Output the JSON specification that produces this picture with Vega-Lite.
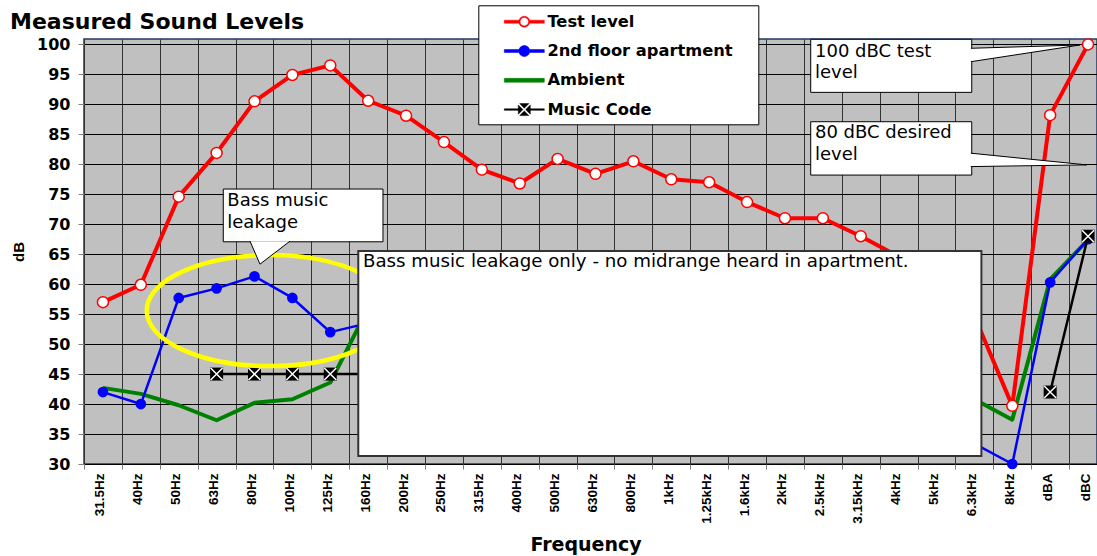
{
  "$schema": "https://vega.github.io/schema/vega-lite/v6.json",
  "width": 1013,
  "height": 425,
  "autosize": {"type": "none"},
  "padding": {"left": 84, "top": 39, "right": 0, "bottom": 92},
  "background": "white",
  "config": {
    "view": {"fill": "#c0c0c0", "stroke": "#1f3864", "strokeWidth": 1.5}
  },
  "title": {
    "text": "Measured Sound Levels",
    "anchor": "start",
    "frame": "group",
    "font": "DejaVu Sans",
    "fontSize": 22,
    "fontWeight": "bold",
    "color": "black",
    "dx": -74,
    "dy": 56.5,
    "baseline": "alphabetic",
    "offset": 10
  },
  "datasets": {
    "sound": [
      {"freq": "31.5Hz", "series": "Test level", "dB": 57.0},
      {"freq": "40Hz", "series": "Test level", "dB": 59.9},
      {"freq": "50Hz", "series": "Test level", "dB": 74.6},
      {"freq": "63Hz", "series": "Test level", "dB": 81.9},
      {"freq": "80Hz", "series": "Test level", "dB": 90.5},
      {"freq": "100Hz", "series": "Test level", "dB": 94.9},
      {"freq": "125Hz", "series": "Test level", "dB": 96.5},
      {"freq": "160Hz", "series": "Test level", "dB": 90.6},
      {"freq": "200Hz", "series": "Test level", "dB": 88.1},
      {"freq": "250Hz", "series": "Test level", "dB": 83.7},
      {"freq": "315Hz", "series": "Test level", "dB": 79.1},
      {"freq": "400Hz", "series": "Test level", "dB": 76.8},
      {"freq": "500Hz", "series": "Test level", "dB": 80.9},
      {"freq": "630Hz", "series": "Test level", "dB": 78.4},
      {"freq": "800Hz", "series": "Test level", "dB": 80.5},
      {"freq": "1kHz", "series": "Test level", "dB": 77.5},
      {"freq": "1.25kHz", "series": "Test level", "dB": 77.0},
      {"freq": "1.6kHz", "series": "Test level", "dB": 73.7},
      {"freq": "2kHz", "series": "Test level", "dB": 71.0},
      {"freq": "2.5kHz", "series": "Test level", "dB": 71.0},
      {"freq": "3.15kHz", "series": "Test level", "dB": 68.0},
      {"freq": "4kHz", "series": "Test level", "dB": 64.6},
      {"freq": "5kHz", "series": "Test level", "dB": 60.0},
      {"freq": "6.3kHz", "series": "Test level", "dB": 54.7},
      {"freq": "8kHz", "series": "Test level", "dB": 39.7},
      {"freq": "dBA", "series": "Test level", "dB": 88.2},
      {"freq": "dBC", "series": "Test level", "dB": 100.0},
      {"freq": "31.5Hz", "series": "2nd floor apartment", "dB": 42.0},
      {"freq": "40Hz", "series": "2nd floor apartment", "dB": 40.0},
      {"freq": "50Hz", "series": "2nd floor apartment", "dB": 57.7},
      {"freq": "63Hz", "series": "2nd floor apartment", "dB": 59.3},
      {"freq": "80Hz", "series": "2nd floor apartment", "dB": 61.3},
      {"freq": "100Hz", "series": "2nd floor apartment", "dB": 57.7},
      {"freq": "125Hz", "series": "2nd floor apartment", "dB": 52.0},
      {"freq": "160Hz", "series": "2nd floor apartment", "dB": 53.5},
      {"freq": "200Hz", "series": "2nd floor apartment", "dB": 50.0},
      {"freq": "250Hz", "series": "2nd floor apartment", "dB": 47.5},
      {"freq": "315Hz", "series": "2nd floor apartment", "dB": 45.5},
      {"freq": "400Hz", "series": "2nd floor apartment", "dB": 44.0},
      {"freq": "500Hz", "series": "2nd floor apartment", "dB": 42.5},
      {"freq": "630Hz", "series": "2nd floor apartment", "dB": 41.0},
      {"freq": "800Hz", "series": "2nd floor apartment", "dB": 40.0},
      {"freq": "1kHz", "series": "2nd floor apartment", "dB": 39.0},
      {"freq": "1.25kHz", "series": "2nd floor apartment", "dB": 38.0},
      {"freq": "1.6kHz", "series": "2nd floor apartment", "dB": 37.5},
      {"freq": "2kHz", "series": "2nd floor apartment", "dB": 37.0},
      {"freq": "2.5kHz", "series": "2nd floor apartment", "dB": 36.5},
      {"freq": "3.15kHz", "series": "2nd floor apartment", "dB": 36.0},
      {"freq": "4kHz", "series": "2nd floor apartment", "dB": 35.5},
      {"freq": "5kHz", "series": "2nd floor apartment", "dB": 34.5},
      {"freq": "6.3kHz", "series": "2nd floor apartment", "dB": 33.4},
      {"freq": "8kHz", "series": "2nd floor apartment", "dB": 30.0},
      {"freq": "dBA", "series": "2nd floor apartment", "dB": 60.3},
      {"freq": "dBC", "series": "2nd floor apartment", "dB": 67.5},
      {"freq": "31.5Hz", "series": "Ambient", "dB": 42.7},
      {"freq": "40Hz", "series": "Ambient", "dB": 41.7},
      {"freq": "50Hz", "series": "Ambient", "dB": 39.8},
      {"freq": "63Hz", "series": "Ambient", "dB": 37.3},
      {"freq": "80Hz", "series": "Ambient", "dB": 40.2},
      {"freq": "100Hz", "series": "Ambient", "dB": 40.8},
      {"freq": "125Hz", "series": "Ambient", "dB": 43.6},
      {"freq": "160Hz", "series": "Ambient", "dB": 56.0},
      {"freq": "200Hz", "series": "Ambient", "dB": 52.0},
      {"freq": "250Hz", "series": "Ambient", "dB": 49.0},
      {"freq": "315Hz", "series": "Ambient", "dB": 47.0},
      {"freq": "400Hz", "series": "Ambient", "dB": 46.0},
      {"freq": "500Hz", "series": "Ambient", "dB": 45.0},
      {"freq": "630Hz", "series": "Ambient", "dB": 44.5},
      {"freq": "800Hz", "series": "Ambient", "dB": 44.0},
      {"freq": "1kHz", "series": "Ambient", "dB": 43.5},
      {"freq": "1.25kHz", "series": "Ambient", "dB": 43.0},
      {"freq": "1.6kHz", "series": "Ambient", "dB": 42.5},
      {"freq": "2kHz", "series": "Ambient", "dB": 42.0},
      {"freq": "2.5kHz", "series": "Ambient", "dB": 41.8},
      {"freq": "3.15kHz", "series": "Ambient", "dB": 41.5},
      {"freq": "4kHz", "series": "Ambient", "dB": 41.2},
      {"freq": "5kHz", "series": "Ambient", "dB": 41.0},
      {"freq": "6.3kHz", "series": "Ambient", "dB": 40.8},
      {"freq": "8kHz", "series": "Ambient", "dB": 37.4},
      {"freq": "dBA", "series": "Ambient", "dB": 60.8},
      {"freq": "dBC", "series": "Ambient", "dB": 67.4},
      {"freq": "31.5Hz", "series": "Music Code", "dB": null},
      {"freq": "40Hz", "series": "Music Code", "dB": null},
      {"freq": "50Hz", "series": "Music Code", "dB": null},
      {"freq": "63Hz", "series": "Music Code", "dB": 45.0},
      {"freq": "80Hz", "series": "Music Code", "dB": 45.0},
      {"freq": "100Hz", "series": "Music Code", "dB": 45.0},
      {"freq": "125Hz", "series": "Music Code", "dB": 45.0},
      {"freq": "160Hz", "series": "Music Code", "dB": 45.0},
      {"freq": "200Hz", "series": "Music Code", "dB": null},
      {"freq": "250Hz", "series": "Music Code", "dB": null},
      {"freq": "315Hz", "series": "Music Code", "dB": null},
      {"freq": "400Hz", "series": "Music Code", "dB": null},
      {"freq": "500Hz", "series": "Music Code", "dB": null},
      {"freq": "630Hz", "series": "Music Code", "dB": null},
      {"freq": "800Hz", "series": "Music Code", "dB": null},
      {"freq": "1kHz", "series": "Music Code", "dB": null},
      {"freq": "1.25kHz", "series": "Music Code", "dB": null},
      {"freq": "1.6kHz", "series": "Music Code", "dB": null},
      {"freq": "2kHz", "series": "Music Code", "dB": null},
      {"freq": "2.5kHz", "series": "Music Code", "dB": null},
      {"freq": "3.15kHz", "series": "Music Code", "dB": null},
      {"freq": "4kHz", "series": "Music Code", "dB": null},
      {"freq": "5kHz", "series": "Music Code", "dB": null},
      {"freq": "6.3kHz", "series": "Music Code", "dB": null},
      {"freq": "8kHz", "series": "Music Code", "dB": null},
      {"freq": "dBA", "series": "Music Code", "dB": 42.0},
      {"freq": "dBC", "series": "Music Code", "dB": 68.0}
    ]
  },
  "resolve": {"scale": {"x": "independent"}, "axis": {"x": "independent", "y": "independent"}},
  "layer": [
    {
      "data": {"name": "sound"},
      "encoding": {
        "x": {
          "field": "freq",
          "type": "nominal",
          "scale": {
            "type": "band",
            "domain": ["31.5Hz","40Hz","50Hz","63Hz","80Hz","100Hz","125Hz","160Hz","200Hz","250Hz","315Hz","400Hz","500Hz","630Hz","800Hz","1kHz","1.25kHz","1.6kHz","2kHz","2.5kHz","3.15kHz","4kHz","5kHz","6.3kHz","8kHz","dBA","dBC"],
            "range": [0, 1023],
            "paddingInner": 0,
            "paddingOuter": 0
          },
          "axis": {
            "title": "Frequency",
            "titleFont": "DejaVu Sans",
            "titleFontSize": 19,
            "titleFontWeight": "bold",
            "titleColor": "black",
            "titlePadding": 12,
            "titleX": 501.5,
            "labelAngle": 270,
            "labelFont": "Liberation Sans",
            "labelFontWeight": "bold",
            "labelFontSize": 13.5,
            "labelColor": "black",
            "labelPadding": 4,
            "labelOffset": -3,
            "labelOverlap": false,
            "labelLimit": 200,
            "tickBand": "extent",
            "ticks": true,
            "tickSize": 5,
            "tickColor": "#808080",
            "domain": false,
            "grid": true,
            "gridColor": "#333333",
            "gridWidth": 1
          }
        },
        "y": {
          "field": "dB",
          "type": "quantitative",
          "scale": {"domain": [30, 100.9], "nice": false, "zero": false},
          "axis": {
            "title": "dB",
            "titleFont": "Liberation Sans",
            "titleFontSize": 15,
            "titleFontWeight": "bold",
            "titleColor": "black",
            "titlePadding": 10,
            "values": [30,35,40,45,50,55,60,65,70,75,80,85,90,95,100],
            "labelFont": "DejaVu Sans",
            "labelFontWeight": "bold",
            "labelFontSize": 16,
            "labelColor": "black",
            "labelPadding": 8,
            "labelOverlap": false,
            "tickSize": 6,
            "tickColor": "#808080",
            "domain": false,
            "grid": true,
            "gridColor": "#000000",
            "gridWidth": 1
          }
        },
        "color": {
          "field": "series",
          "type": "nominal",
          "scale": {
            "domain": ["Test level", "2nd floor apartment", "Ambient", "Music Code"],
            "range": ["#ff0000", "#0000ff", "#008000", "#000000"]
          },
          "legend": {
            "title": null,
            "orient": "none",
            "legendX": 394.3,
            "legendY": -33.7,
            "fillColor": "white",
            "strokeColor": "black",
            "padding": 5.9,
            "rowPadding": 10.3,
            "labelFont": "DejaVu Sans",
            "labelFontWeight": "bold",
            "labelFontSize": 16.3,
            "labelColor": "black",
            "labelLimit": 400,
            "symbolSize": 400,
            "symbolOffset": 29.6,
            "labelOffset": 12.6,
            "encode": {
              "symbols": {
                "update": {
                  "shape": {"signal": "datum.value === 'Ambient' ? 'M-2,-0.2L2,-0.2L2,0.2L-2,0.2ZM22.7,0' : datum.value === 'Music Code' ? 'M-2,-0.075L-0.6,-0.075L-0.6,0.075L-2,0.075ZM0.6,-0.075L2,-0.075L2,0.075L0.6,0.075ZM-0.46,-0.6L0.46,-0.6L0,-0.14ZM0.6,-0.46L0.6,0.46L0.14,0ZM0.46,0.6L-0.46,0.6L0,0.14ZM-0.6,0.46L-0.6,-0.46L-0.14,0ZM22.7,0' : datum.value === 'Test level' ? 'M-2,-0.15L-0.55,-0.15L-0.55,0.15L-2,0.15ZM0.55,-0.15L2,-0.15L2,0.15L0.55,0.15ZM0.55,0A0.55,0.55,0,1,1,-0.55,0A0.55,0.55,0,1,1,0.55,0ZM0.42,0A0.42,0.42,0,1,0,-0.42,0A0.42,0.42,0,1,0,0.42,0ZM22.7,0' : 'M-2,-0.15L-0.55,-0.15L-0.55,0.15L-2,0.15ZM0.55,-0.15L2,-0.15L2,0.15L0.55,0.15ZM0.55,0A0.55,0.55,0,1,1,-0.55,0A0.55,0.55,0,1,1,0.55,0ZM22.7,0'"},
                  "fill": {"signal": "datum.value === 'Test level' ? '#ff0000' : datum.value === '2nd floor apartment' ? '#0000ff' : datum.value === 'Ambient' ? '#008000' : '#000000'"},
                  "stroke": {"signal": "datum.value === 'Test level' ? '#ff0000' : datum.value === '2nd floor apartment' ? '#0000ff' : datum.value === 'Ambient' ? '#008000' : '#000000'"},
                  "strokeWidth": {"value": 0.5},
                  "opacity": {"value": 1}
                }
              }
            }
          }
        }
      },
      "layer": [
        {
          "transform": [{"filter": "datum.series === 'Ambient'"}],
          "mark": {"type": "line", "strokeWidth": 4, "strokeJoin": "round", "invalid": "break-paths-show-domains"}
        },
        {
          "transform": [{"filter": "datum.series === '2nd floor apartment'"}],
          "mark": {"type": "line", "strokeWidth": 2.5, "strokeJoin": "round", "invalid": "break-paths-show-domains"}
        },
        {
          "transform": [{"filter": "datum.series === '2nd floor apartment'"}],
          "mark": {"type": "circle", "size": 115, "fill": "#0000ff", "opacity": 1}
        },
        {
          "transform": [{"filter": "datum.series === 'Test level'"}],
          "mark": {"type": "line", "strokeWidth": 4, "strokeJoin": "round", "invalid": "break-paths-show-domains"}
        },
        {
          "transform": [{"filter": "datum.series === 'Test level'"}],
          "mark": {"type": "circle", "size": 121, "fill": "white", "stroke": "#ff0000", "strokeWidth": 1.5, "opacity": 1}
        },
        {
          "transform": [{"filter": "datum.series === 'Music Code'"}],
          "mark": {"type": "line", "strokeWidth": 2.5, "strokeJoin": "round", "invalid": "break-paths-show-domains"}
        },
        {
          "transform": [{"filter": "datum.series === 'Music Code' && datum.dB != null"}],
          "mark": {"type": "square", "size": 169, "fill": "black", "opacity": 1}
        },
        {
          "transform": [{"filter": "datum.series === 'Music Code' && datum.dB != null"}],
          "mark": {"type": "point", "shape": "M-1,-1L1,1M1,-1L-1,1", "size": 144, "filled": false, "stroke": "white", "strokeWidth": 1.5, "opacity": 1}
        }
      ]
    },
    {
      "data": {"values": [{}]},
      "layer": [
        {
          "mark": {"type": "point", "shape": "M-1,0A1,0.45,0,1,1,1,0A1,0.45,0,1,1,-1,0Z", "size": 60804, "filled": false, "stroke": "#ffff00", "strokeWidth": 4.5, "opacity": 1},
          "encoding": {
            "x": {"datum": 4.909, "type": "quantitative", "scale": {"domain": [0, 27], "range": [0, 1023], "nice": false, "zero": false}, "axis": null},
            "y": {"datum": 55.59, "type": "quantitative", "scale": {"domain": [30, 100.9], "nice": false, "zero": false}, "axis": null}
          }
        },
        {
          "mark": {"type": "rect", "fill": "white", "stroke": "black", "strokeWidth": 1},
          "encoding": {
            "x": {"datum": 3.676, "type": "quantitative", "scale": {"domain": [0, 27], "range": [0, 1023], "nice": false, "zero": false}, "axis": null},
            "x2": {"datum": 7.891},
            "y": {"datum": 75.87, "type": "quantitative", "scale": {"domain": [30, 100.9], "nice": false, "zero": false}, "axis": null},
            "y2": {"datum": 67.07}
          }
        },
        {
          "mark": {"type": "point", "shape": "M-1,-2.3L0,0L3,-2.3", "size": 400, "filled": true, "fill": "white", "stroke": "black", "strokeWidth": 1, "opacity": 1},
          "encoding": {
            "x": {"datum": 4.645, "type": "quantitative", "scale": {"domain": [0, 27], "range": [0, 1023], "nice": false, "zero": false}, "axis": null},
            "y": {"datum": 63.34, "type": "quantitative", "scale": {"domain": [30, 100.9], "nice": false, "zero": false}, "axis": null}
          }
        },
        {
          "mark": {"type": "text", "text": ["Bass music", "leakage"], "align": "left", "baseline": "alphabetic", "font": "DejaVu Sans", "fontSize": 18, "lineHeight": 22, "fill": "black"},
          "encoding": {
            "x": {"datum": 3.782, "type": "quantitative", "scale": {"domain": [0, 27], "range": [0, 1023], "nice": false, "zero": false}, "axis": null},
            "y": {"datum": 73.08, "type": "quantitative", "scale": {"domain": [30, 100.9], "nice": false, "zero": false}, "axis": null}
          }
        },
        {
          "mark": {"type": "rect", "fill": "white", "stroke": "black", "strokeWidth": 1},
          "encoding": {
            "x": {"datum": 19.18, "type": "quantitative", "scale": {"domain": [0, 27], "range": [0, 1023], "nice": false, "zero": false}, "axis": null},
            "x2": {"datum": 23.43},
            "y": {"datum": 100.85, "type": "quantitative", "scale": {"domain": [30, 100.9], "nice": false, "zero": false}, "axis": null},
            "y2": {"datum": 92.0}
          }
        },
        {
          "mark": {"type": "point", "shape": "M-10.9,0.33L0,0L-10.9,1.67", "size": 400, "filled": true, "fill": "white", "stroke": "black", "strokeWidth": 1, "opacity": 1},
          "encoding": {
            "x": {"datum": 26.286, "type": "quantitative", "scale": {"domain": [0, 27], "range": [0, 1023], "nice": false, "zero": false}, "axis": null},
            "y": {"datum": 99.9, "type": "quantitative", "scale": {"domain": [30, 100.9], "nice": false, "zero": false}, "axis": null}
          }
        },
        {
          "mark": {"type": "text", "text": ["100 dBC test", "level"], "align": "left", "baseline": "alphabetic", "font": "DejaVu Sans", "fontSize": 18, "lineHeight": 21.6, "fill": "black"},
          "encoding": {
            "x": {"datum": 19.293, "type": "quantitative", "scale": {"domain": [0, 27], "range": [0, 1023], "nice": false, "zero": false}, "axis": null},
            "y": {"datum": 97.95, "type": "quantitative", "scale": {"domain": [30, 100.9], "nice": false, "zero": false}, "axis": null}
          }
        },
        {
          "mark": {"type": "rect", "fill": "white", "stroke": "black", "strokeWidth": 1},
          "encoding": {
            "x": {"datum": 19.18, "type": "quantitative", "scale": {"domain": [0, 27], "range": [0, 1023], "nice": false, "zero": false}, "axis": null},
            "x2": {"datum": 23.43},
            "y": {"datum": 87.1, "type": "quantitative", "scale": {"domain": [30, 100.9], "nice": false, "zero": false}, "axis": null},
            "y2": {"datum": 78.2}
          }
        },
        {
          "mark": {"type": "point", "shape": "M-11.57,-1.17L0,0L-11.57,0.17", "size": 400, "filled": true, "fill": "white", "stroke": "black", "strokeWidth": 1, "opacity": 1},
          "encoding": {
            "x": {"datum": 26.46, "type": "quantitative", "scale": {"domain": [0, 27], "range": [0, 1023], "nice": false, "zero": false}, "axis": null},
            "y": {"datum": 79.9, "type": "quantitative", "scale": {"domain": [30, 100.9], "nice": false, "zero": false}, "axis": null}
          }
        },
        {
          "mark": {"type": "text", "text": ["80 dBC desired", "level"], "align": "left", "baseline": "alphabetic", "font": "DejaVu Sans", "fontSize": 18, "lineHeight": 21.7, "fill": "black"},
          "encoding": {
            "x": {"datum": 19.293, "type": "quantitative", "scale": {"domain": [0, 27], "range": [0, 1023], "nice": false, "zero": false}, "axis": null},
            "y": {"datum": 84.33, "type": "quantitative", "scale": {"domain": [30, 100.9], "nice": false, "zero": false}, "axis": null}
          }
        },
        {
          "mark": {"type": "rect", "fill": "white", "stroke": "#333333", "strokeWidth": 2},
          "encoding": {
            "x": {"datum": 7.239, "type": "quantitative", "scale": {"domain": [0, 27], "range": [0, 1023], "nice": false, "zero": false}, "axis": null},
            "x2": {"datum": 23.685},
            "y": {"datum": 65.52, "type": "quantitative", "scale": {"domain": [30, 100.9], "nice": false, "zero": false}, "axis": null},
            "y2": {"datum": 31.35}
          }
        },
        {
          "mark": {"type": "text", "text": "Bass music leakage only - no midrange heard in apartment.", "align": "left", "baseline": "alphabetic", "font": "DejaVu Sans", "fontSize": 18.2, "fill": "black"},
          "encoding": {
            "x": {"datum": 7.363, "type": "quantitative", "scale": {"domain": [0, 27], "range": [0, 1023], "nice": false, "zero": false}, "axis": null},
            "y": {"datum": 62.8, "type": "quantitative", "scale": {"domain": [30, 100.9], "nice": false, "zero": false}, "axis": null}
          }
        }
      ]
    }
  ]
}
